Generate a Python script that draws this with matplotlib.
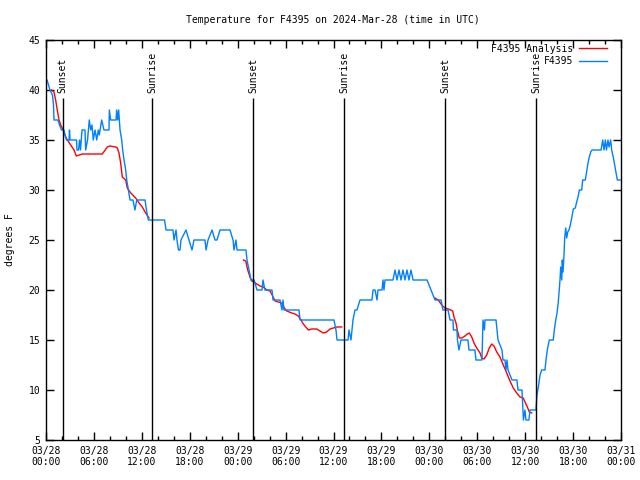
import numpy as np
import matplotlib.pyplot as plt

plt.rcParams['font.family'] = 'DejaVu Sans Mono'
plt.rcParams['font.size'] = 7

# observed temperature (hours since 03/28 00:00 UTC, deg F)
obs_hours = [0.13, 0.50, 0.81, 0.94, 1.00, 1.50, 1.69, 1.94, 2.25, 2.38, 2.57, 2.88, 2.94, 3.01,
             3.82, 3.88, 4.07, 4.20, 4.32, 4.51, 4.88, 4.97, 5.20, 5.42, 5.60, 5.76, 5.92, 6.14,
             6.35, 6.55, 6.67, 6.97, 7.26, 7.89, 7.93, 8.10, 8.77, 8.85, 8.98, 9.10, 9.27, 9.48,
             9.60, 9.77, 9.98, 10.11, 10.31, 10.52, 10.89, 11.14, 11.36, 12.40, 12.58, 12.81,
             14.84, 15.03, 15.90, 16.03, 16.28, 16.40, 16.59, 16.78, 16.90, 17.53, 17.91, 18.28,
             18.53, 19.91, 20.04, 20.29, 20.79, 21.16, 21.41, 21.79, 23.04, 23.42, 23.54, 23.79,
             23.92, 25.04, 25.17, 25.42, 25.67, 26.05, 26.42, 27.05, 27.17, 27.42, 28.30, 28.43,
             29.30, 29.55, 29.68, 29.80, 31.68, 31.81, 36.06, 36.31, 36.44, 37.82, 37.94, 38.19,
             38.32, 38.44, 38.69, 38.94, 39.32, 40.82, 40.95, 41.20, 41.45, 41.57, 42.07, 42.20,
             42.32, 42.45, 43.45, 43.70, 43.95, 44.20, 44.45, 44.70, 44.95, 45.20, 45.45, 45.70,
             45.96, 47.71, 47.96, 48.21, 48.71, 49.46, 49.71, 50.34, 50.46, 50.59, 50.96, 51.02,
             51.46, 51.52, 51.71, 51.96, 52.84, 52.96, 53.71, 53.84, 54.59, 54.72, 54.90, 54.97,
             56.35, 56.47, 56.60, 57.10, 57.22, 57.47, 57.60, 57.72, 57.85, 58.35, 58.97, 59.10,
             59.60, 59.72, 59.78, 59.97, 60.10, 60.47, 60.60, 61.35, 61.48, 61.69, 61.86, 62.07,
             62.48, 62.61, 62.77, 63.02, 63.52, 63.65, 63.83, 63.99, 64.11, 64.24, 64.36, 64.45,
             64.58, 64.65, 64.74, 64.86, 64.95, 65.08, 65.20, 65.33, 65.49, 65.65, 65.83, 66.03,
             66.28, 66.45, 66.62, 66.78, 67.08, 67.20, 67.53, 67.71, 67.87, 68.03, 68.21, 68.37,
             69.50, 69.71, 69.87, 70.04, 70.18, 70.37, 70.50, 70.71, 70.83, 71.03, 71.25, 71.37,
             71.54, 71.88]
obs_temp = [41, 40, 39.5, 38.5, 37, 37, 36.5, 36, 36, 35.5, 35, 35, 36, 35,
            35, 34, 34, 35, 34, 36, 36, 34, 35, 37, 36, 36.5, 35, 36,
            35, 36, 35.5, 37, 36, 36, 38, 37, 37, 38, 37, 38, 36, 35,
            34, 33, 32, 31, 30, 29, 29, 28, 29, 29, 28, 27,
            27, 26, 26, 25, 26, 25, 24, 24, 25, 26, 25, 24,
            25, 25, 24, 25, 26, 25, 25, 26, 26, 25, 24, 25,
            24, 24, 23, 22, 21, 21, 20, 20, 21, 20, 20, 19,
            19, 18, 19, 18, 18, 17, 17, 16, 15, 15, 16, 15,
            16, 17, 18, 18, 19, 19, 20, 20, 19, 20, 20, 21,
            20, 21, 21, 22, 21, 22, 21, 22, 21, 22, 21, 22,
            21, 21, 20.5, 20, 19, 19, 18, 18, 17.5, 17, 17, 16,
            16, 15, 14, 15, 15, 14, 14, 13, 13, 17, 16, 17,
            17, 16, 15, 14, 13, 13, 12, 13, 12, 11, 11, 10,
            10, 8, 7, 8, 7, 7, 8, 8, 9.5, 10.5, 11.5, 12,
            12, 13, 14, 15, 15, 16, 17, 17.7, 18.5, 19.7, 21, 22.3,
            21, 23, 21.8, 23.5, 25.2, 26.2, 25.2, 25.8, 26, 26.5, 27.2, 28.1,
            28.2, 28.8, 29.3, 30, 30, 31, 31, 31.9, 32.7, 33.3, 33.8, 34,
            34, 35, 34, 35, 34, 35, 34.3, 35, 34, 33.3, 32.3, 31.7,
            31, 31]

# analysis series, three separate runs
ana_hours = [
    [0.71, 1.00, 1.21, 1.41, 1.63, 1.84, 2.04, 2.25, 2.47, 2.67, 3.09, 3.51, 3.79, 4.55,
     7.05, 7.68, 7.98, 8.73, 8.93, 9.14, 9.35, 9.55, 9.98, 10.18, 10.61, 11.23, 11.65,
     12.06, 12.48, 12.90],
    [24.71, 25.01, 25.26, 25.54, 25.76, 26.08, 26.38, 26.80, 27.21, 27.64, 28.05, 28.26,
     28.68, 29.09, 29.51, 29.84, 30.14, 30.77, 31.18, 31.59, 31.93, 32.22, 32.52, 32.85,
     33.27, 33.90, 34.31, 34.72, 35.15, 35.56, 35.98, 36.40, 37.03],
    [48.71, 49.12, 49.55, 49.96, 50.38, 50.93, 51.09, 51.34, 51.50, 51.75, 52.05, 52.47,
     52.75, 53.01, 53.31, 53.59, 53.93, 54.35, 54.56, 54.85, 55.18, 55.51, 55.81, 56.10,
     56.44, 56.85, 57.26, 57.69, 58.10, 58.51, 58.94, 59.35, 59.76, 59.98, 60.27, 60.52,
     60.82],
]
ana_temp = [
    [40, 39.8, 39, 38, 37, 36.5, 36.2, 35.8, 35.3, 35, 34.5, 34, 33.4, 33.6,
     33.6, 34.3, 34.4, 34.3, 34.2, 33.7, 32.7, 31.3, 31, 30.2, 29.7, 29.2, 28.7,
     28.3, 27.7, 27.2],
    [23, 22.9, 22, 21.3, 20.9, 20.8, 20.6, 20.4, 20.3, 20, 19.9, 19.6,
     18.9, 18.8, 18.7, 18.2, 17.9, 17.7, 17.6, 17.4, 17, 16.6, 16.3, 16,
     16.1, 16.1, 15.9, 15.7, 15.8, 16.1, 16.2, 16.3, 16.3],
    [19.2, 19, 18.5, 18.2, 18.1, 17.9, 17.3, 16.7, 16, 15.2, 15.2, 15.4,
     15.6, 15.7, 15.3, 14.7, 14.2, 13.7, 13.2, 13.1, 13.5, 14.2, 14.6, 14.4,
     13.8, 13.3, 12.5, 11.7, 10.9, 10.2, 9.7, 9.3, 9.2, 8.8, 8.3, 7.8,
     7.7],
]

sunset_hours = [2.07, 25.96, 50.0]
sunrise_hours = [13.27, 37.35, 61.40]

tick_hours = list(range(0, 73, 6))
tick_labels = ['03/28\n00:00', '03/28\n06:00', '03/28\n12:00', '03/28\n18:00',
               '03/29\n00:00', '03/29\n06:00', '03/29\n12:00', '03/29\n18:00',
               '03/30\n00:00', '03/30\n06:00', '03/30\n12:00', '03/30\n18:00',
               '03/31\n00:00']

fig = plt.figure(figsize=(6.4, 4.8), dpi=100)
ax = fig.add_axes([46/640, 40/480, 575/640, 400/480])

for i in range(len(ana_hours)):
    ax.plot(ana_hours[i], ana_temp[i], color='#ff0000', lw=1,
            label='F4395 Analysis' if i == 0 else None)
ax.plot(obs_hours, obs_temp, color='#0080ff', lw=1, label='F4395')

for h in sunset_hours:
    ax.vlines(h, 5, 39.2, color='k', lw=1)
    ax.text(h, 39.7, 'Sunset', rotation=90, ha='center', va='bottom')
for h in sunrise_hours:
    ax.vlines(h, 5, 39.2, color='k', lw=1)
    ax.text(h, 39.7, 'Sunrise', rotation=90, ha='center', va='bottom')

ax.set_xlim(0, 72)
ax.set_ylim(5, 45)
ax.set_xticks(tick_hours)
ax.set_xticklabels(tick_labels)
ax.set_xticks(np.arange(0, 73, 2), minor=True)
ax.set_yticks(range(5, 46, 5))
ax.tick_params(which='both', direction='in', top=True, right=True, width=1, pad=4)
ax.tick_params(which='major', length=6)
ax.tick_params(which='minor', length=3)
for s in ax.spines.values():
    s.set_linewidth(1)

ax.legend(loc='upper right', bbox_to_anchor=(1 - 8/575, 1 + 2/400), frameon=False,
          markerfirst=False, handlelength=2.9, borderaxespad=0.2, labelspacing=0.25,
          handletextpad=0.6)

fig.text(333/640, 1 - 20/480, 'Temperature for F4395 on 2024-Mar-28 (time in UTC)',
         ha='center', va='center')
fig.text(10/640, 0.5, 'degrees F', rotation=90, ha='center', va='center')

fig.savefig('out.png', dpi=100)
